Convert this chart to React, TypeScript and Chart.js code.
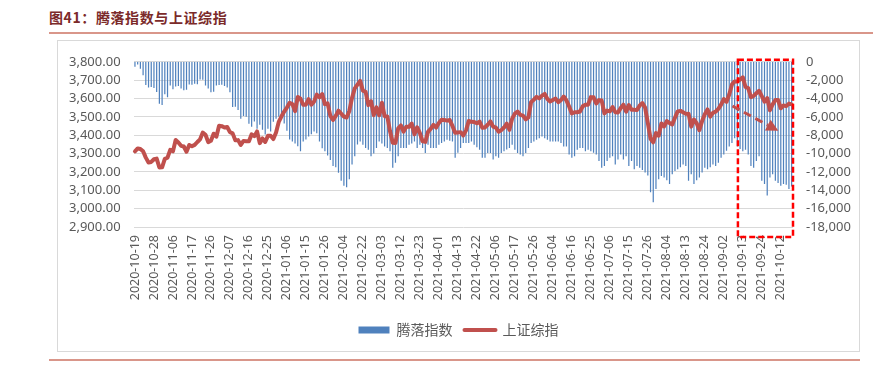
import React, { useEffect, useRef } from 'react';
import { Chart, registerables } from 'chart.js';

Chart.register(...registerables);

// Trading days, one string per month: "YYYY-MM:dd,dd,..."
const TRADING_DAYS: string[] = [
  '2020-10:19,20,21,22,23,26,27,28,29,30',
  '2020-11:02,03,04,05,06,09,10,11,12,13,16,17,18,19,20,23,24,25,26,27,30',
  '2020-12:01,02,03,04,07,08,09,10,11,14,15,16,17,18,21,22,23,24,25,28,29,30,31',
  '2021-01:04,05,06,07,08,11,12,13,14,15,18,19,20,21,22,25,26,27,28,29',
  '2021-02:01,02,03,04,05,08,09,10,18,19,22,23,24,25,26',
  '2021-03:01,02,03,04,05,08,09,10,11,12,15,16,17,18,19,22,23,24,25,26,29,30,31',
  '2021-04:01,02,06,07,08,09,12,13,14,15,16,19,20,21,22,23,26,27,28,29,30',
  '2021-05:06,07,10,11,12,13,14,17,18,19,20,21,24,25,26,27,28,31',
  '2021-06:01,02,03,04,07,08,09,10,11,15,16,17,18,21,22,23,24,25,28,29,30',
  '2021-07:01,02,05,06,07,08,09,12,13,14,15,16,19,20,21,22,23,26,27,28,29,30',
  '2021-08:02,03,04,05,06,09,10,11,12,13,16,17,18,19,20,23,24,25,26,27,30,31',
  '2021-09:01,02,03,06,07,08,09,10,13,14,15,16,17,22,23,24,27,28,29,30',
  '2021-10:08,11,12,13,14,15,18',
];
const DATES: string[] = TRADING_DAYS.flatMap((s) => {
  const [m, days] = s.split(':');
  return days.split(',').map((d) => `${m}-${d}`);
});

const TICK_LABELS: string[] = [
  '2020-10-19', '2020-10-28', '2020-11-06', '2020-11-17', '2020-11-26', '2020-12-07',
  '2020-12-16', '2020-12-25', '2021-01-06', '2021-01-15', '2021-01-26', '2021-02-04',
  '2021-02-22', '2021-03-03', '2021-03-12', '2021-03-23', '2021-04-01', '2021-04-13',
  '2021-04-22', '2021-05-06', '2021-05-17', '2021-05-26', '2021-06-04', '2021-06-16',
  '2021-06-25', '2021-07-06', '2021-07-15', '2021-07-26', '2021-08-04', '2021-08-13',
  '2021-08-24', '2021-09-02', '2021-09-13', '2021-09-24', '2021-10-12',
];

// 上证综指 (left axis)
const SH_COMPOSITE: number[] = [
  3312.5, 3328.1, 3325.03, 3312.49, 3278.0, 3251.12, 3254.32, 3269.24, 3272.74, 3224.53,
  3225.12, 3271.07, 3277.44, 3320.13, 3312.16, 3373.73, 3360.15, 3342.2, 3338.68, 3310.1,
  3346.97, 3339.9, 3347.3, 3363.09, 3377.73, 3414.49, 3402.82, 3362.33, 3369.73, 3408.31,
  3391.76,
  3451.94, 3449.38, 3442.14, 3444.58, 3416.6, 3410.18, 3371.96, 3373.28, 3347.19, 3369.12,
  3367.23, 3366.98, 3404.87, 3394.9, 3420.57, 3356.78, 3382.32, 3363.11, 3396.56, 3397.29,
  3379.04, 3414.45, 3473.07,
  3502.96, 3528.68, 3550.88, 3576.2, 3570.11, 3531.5, 3608.34, 3598.65, 3565.9, 3566.38,
  3596.22, 3566.65, 3583.09, 3621.26, 3606.75, 3624.24, 3569.43, 3573.34, 3505.18, 3483.07,
  3505.28, 3533.68, 3517.31, 3501.86, 3496.33, 3532.44, 3603.49, 3655.09, 3675.36, 3696.17,
  3642.44, 3636.36, 3564.08, 3585.05, 3509.08,
  3551.4, 3508.59, 3576.9, 3503.49, 3501.99, 3421.41, 3359.29, 3357.74, 3436.83, 3453.08,
  3419.95, 3446.73, 3445.55, 3463.07, 3404.66, 3443.44, 3411.51, 3367.06, 3363.59, 3418.33,
  3435.3, 3456.68, 3441.91,
  3466.33, 3484.39, 3482.99, 3479.63, 3482.55, 3450.68, 3412.95, 3415.05, 3416.8, 3398.99,
  3426.62, 3477.55, 3472.94, 3472.3, 3465.11, 3474.17, 3441.17, 3442.61, 3457.07, 3474.9,
  3446.86,
  3441.28, 3418.87, 3427.99, 3441.85, 3462.75, 3429.54, 3490.38, 3517.62, 3529.01, 3510.96,
  3506.94, 3486.56, 3497.28, 3581.34, 3593.36, 3608.85, 3600.78, 3615.48,
  3624.71, 3597.14, 3584.22, 3591.84, 3599.54, 3580.11, 3591.4, 3610.86, 3589.75, 3556.56,
  3518.33, 3525.1, 3525.1, 3529.18, 3557.41, 3566.22, 3566.65, 3607.56, 3606.37, 3573.18,
  3591.2,
  3588.78, 3518.76, 3534.32, 3530.26, 3553.72, 3525.5, 3524.09, 3547.84, 3566.2, 3528.5,
  3564.59, 3539.3, 3539.12, 3536.79, 3562.3, 3574.73, 3550.4, 3467.44, 3381.18, 3361.59,
  3411.72, 3397.36,
  3464.29, 3447.99, 3477.22, 3466.56, 3458.23, 3494.63, 3529.93, 3532.62, 3524.74, 3516.3,
  3517.34, 3446.98, 3485.29, 3465.55, 3427.33, 3477.13, 3514.47, 3540.38, 3501.66, 3522.16,
  3528.15, 3543.94,
  3567.1, 3597.04, 3581.73, 3621.86, 3676.59, 3693.13, 3693.13, 3703.11, 3715.37, 3662.6,
  3656.22, 3607.09, 3613.97, 3628.49, 3642.22, 3613.07, 3582.83, 3602.22, 3536.29, 3568.17,
  3592.17, 3591.71, 3546.94, 3561.76, 3558.28, 3572.37, 3568.14,
];

// 腾落指数 (right axis)
const ADVANCE_DECLINE: number[] = [
  -530, -300, -750, -1470, -2540, -2800, -2750, -2850, -3300, -4570,
  -4710, -3540, -3860, -2570, -3000, -2700, -2650, -2900, -3100, -3050,
  -2460, -2500, -2400, -2450, -1930, -1950, -2570, -2900, -3320, -3250,
  -2570, -2540, -2500, -2650, -2800, -3320, -4930, -4900, -5250, -6200,
  -5900, -6000, -6750, -7070, -6500, -7290, -6860, -7400, -7930, -7290,
  -7600, -6540, -6200, -6000, -6000, -6720, -7500, -8460, -8680, -8900,
  -9210, -9750, -8680, -8460, -8140, -7900, -7600, -7790, -8680, -9430,
  -9750, -10200, -10700, -11360, -11500, -12100, -12960, -13500, -13680, -12800,
  -11200, -10300, -9000, -8680, -9040, -9390, -9570, -10290, -10000, -9390,
  -8680, -8900, -9220, -9400, -9750, -11540, -11000, -10290, -9390, -9390,
  -9390, -9040, -8900, -8680, -9390, -9040, -9400, -9930, -9040, -9390,
  -9390, -9390, -9040, -8860, -8680, -8500, -8600, -8680, -10460, -9900,
  -9390, -8860, -8860, -8860, -8680, -9040, -9300, -9570, -10460, -10460,
  -9930, -9930, -10640, -10290, -10460, -9930, -9750, -9550, -9390, -9040,
  -9570, -9930, -10100, -10290, -9930, -9390, -8860, -8680, -8500, -8320,
  -8140, -8320, -8500, -8680, -8680, -8680, -8680, -8860, -9220, -9220,
  -10110, -10460, -10290, -9570, -9390, -9390, -9750, -9570, -9750, -9900,
  -10110, -10820, -11540, -11360, -10820, -10460, -10290, -11180, -10640, -10110,
  -10640, -10290, -11360, -10820, -11720, -11360, -11540, -11800, -12070, -12400,
  -14220, -15290, -13860, -12790, -12430, -12610, -12900, -13320, -12250, -11900,
  -11720, -11500, -11180, -11360, -12970, -12250, -13320, -12900, -12610, -12070,
  -11540, -11720, -11500, -11180, -11360, -11000, -10460, -10110, -9700, -9220,
  -8860, -8320, -9220, -9500, -9750, -9570, -10110, -11360, -11540, -10800,
  -10290, -12970, -13320, -14570, -12610, -12250, -12970, -13200, -13500, -13320,
  -13400, -13860, -13600,
];

const LEFT_MIN = 2900;
const LEFT_MAX = 3800;
const LEFT_STEP = 100;
const RIGHT_MIN = -18000;
const RIGHT_MAX = 0;
const RIGHT_STEP = 2000;

// Hand-drawn highlight: dashed box and dashed arrow, anchored in data units
const BOX_FROM_INDEX = 222.2;
const BOX_TOP_VALUE = 3811;
const BOX_BOTTOM_VALUE = 2846;
const ARROW_FROM: [number, number] = [220.2, 3559];
const ARROW_TO: [number, number] = [237.1, 3424];

const FONT = '"Noto Sans", "Noto Sans CJK SC", sans-serif';
const CJK = '"Noto Sans CJK SC", "Noto Sans", sans-serif';

const annotationPlugin = {
  id: 'boxArrow',
  afterDatasetsDraw(chart: any) {
    const { ctx, chartArea, scales } = chart;
    const xs = scales.x;
    const ys = scales.y;
    ctx.save();
    const l = xs.getPixelForValue(BOX_FROM_INDEX);
    const r = chartArea.right;
    const t = ys.getPixelForValue(BOX_TOP_VALUE);
    const b = ys.getPixelForValue(BOX_BOTTOM_VALUE);
    ctx.strokeStyle = '#ff0000';
    ctx.lineWidth = 2.5;
    ctx.setLineDash([6, 3]);
    ctx.strokeRect(l, t, r - l, b - t);

    const x1 = xs.getPixelForValue(ARROW_FROM[0]);
    const y1 = ys.getPixelForValue(ARROW_FROM[1]);
    const x2 = xs.getPixelForValue(ARROW_TO[0]);
    const y2 = ys.getPixelForValue(ARROW_TO[1]);
    const ang = Math.atan2(y2 - y1, x2 - x1);
    const headLen = 12;
    const headW = 6;
    const bx = x2 - headLen * Math.cos(ang);
    const by = y2 - headLen * Math.sin(ang);
    ctx.strokeStyle = '#c0504d';
    ctx.lineWidth = 3;
    ctx.setLineDash([8, 5]);
    ctx.beginPath();
    ctx.moveTo(x1, y1);
    ctx.lineTo(bx, by);
    ctx.stroke();
    ctx.setLineDash([]);
    ctx.fillStyle = '#c0504d';
    ctx.beginPath();
    ctx.moveTo(x2, y2);
    ctx.lineTo(bx - headW * Math.sin(ang), by + headW * Math.cos(ang));
    ctx.lineTo(bx + headW * Math.sin(ang), by - headW * Math.cos(ang));
    ctx.closePath();
    ctx.fill();
    ctx.restore();
  },
};

export default function App() {
  const ref = useRef<HTMLCanvasElement | null>(null);

  useEffect(() => {
    if (!ref.current) return;
    const chart = new Chart(ref.current, {
      type: 'bar',
      data: {
        labels: DATES,
        datasets: [
          {
            type: 'bar',
            label: '腾落指数',
            data: ADVANCE_DECLINE,
            yAxisID: 'y2',
            backgroundColor: '#4f81bd',
            categoryPercentage: 1,
            barPercentage: 0.45,
            order: 2,
          } as any,
          {
            type: 'line',
            label: '上证综指',
            data: SH_COMPOSITE,
            yAxisID: 'y',
            borderColor: '#c0504d',
            backgroundColor: '#c0504d',
            borderWidth: 4,
            pointRadius: 0,
            tension: 0,
            borderJoinStyle: 'round',
            borderCapStyle: 'round',
            order: 1,
          } as any,
        ],
      },
      options: {
        animation: false,
        responsive: false,
        maintainAspectRatio: false,
        layout: { padding: { top: 16, bottom: 4, left: 0, right: 0 } },
        plugins: {
          tooltip: { enabled: false },
          legend: {
            position: 'bottom',
            labels: {
              usePointStyle: true,
              pointStyleWidth: 31,
              boxHeight: 7,
              padding: 12,
              color: '#595959',
              font: { size: 14, family: CJK },
              generateLabels: () => [
                {
                  text: '腾落指数',
                  fillStyle: '#4f81bd',
                  strokeStyle: '#4f81bd',
                  lineWidth: 0,
                  pointStyle: 'rect',
                  hidden: false,
                  datasetIndex: 0,
                  fontColor: '#595959',
                } as any,
                {
                  text: '上证综指',
                  fillStyle: '#c0504d',
                  strokeStyle: '#c0504d',
                  lineWidth: 4,
                  lineCap: 'round',
                  pointStyle: 'line',
                  hidden: false,
                  datasetIndex: 1,
                  fontColor: '#595959',
                } as any,
              ],
            },
          },
        },
        scales: {
          x: {
            type: 'category',
            offset: true,
            grid: { display: false, drawTicks: false },
            border: { display: false },
            ticks: {
              autoSkip: false,
              maxRotation: 90,
              minRotation: 90,
              padding: 8,
              color: '#595959',
              font: { size: 12.5, family: FONT },
              callback: (_v: any, i: number) => (TICK_LABELS.includes(DATES[i]) ? DATES[i] : null),
            },
            afterFit: (s: any) => {
              s.height = 84;
            },
          },
          y: {
            position: 'left',
            min: LEFT_MIN,
            max: LEFT_MAX,
            grid: { color: '#d9d9d9', drawTicks: false },
            border: { display: false },
            ticks: {
              autoSkip: false,
              stepSize: LEFT_STEP,
              padding: 13,
              color: '#595959',
              font: { size: 13, family: FONT },
              callback: (v: any) =>
                Number(v).toLocaleString('en-US', { minimumFractionDigits: 2, maximumFractionDigits: 2 }),
            },
            afterFit: (s: any) => {
              s.width = 75.6;
            },
          },
          y2: {
            position: 'right',
            min: RIGHT_MIN,
            max: RIGHT_MAX,
            grid: { display: false, drawTicks: false },
            border: { display: false },
            ticks: {
              autoSkip: false,
              stepSize: RIGHT_STEP,
              padding: 13,
              color: '#595959',
              font: { size: 13, family: FONT },
              callback: (v: any) => Number(v).toLocaleString('en-US'),
            },
            afterFit: (s: any) => {
              s.width = 66;
            },
          },
        },
      } as any,
      plugins: [annotationPlugin],
    });
    return () => chart.destroy();
  }, []);

  return (
    <div
      style={{
        position: 'absolute',
        left: 0,
        top: 0,
        width: 873,
        height: 367,
        background: '#ffffff',
        overflow: 'hidden',
      }}
    >
      <div
        style={{
          position: 'absolute',
          left: 49,
          top: 7,
          fontFamily: CJK,
          fontWeight: 700,
          fontSize: 14,
          color: '#7b2a2a',
          whiteSpace: 'nowrap',
          letterSpacing: 0.6,
        }}
      >
        图41：腾落指数与上证综指
      </div>
      <div style={{ position: 'absolute', left: 49, top: 32, width: 824, height: 2, background: '#d9968a' }} />
      <div
        style={{
          position: 'absolute',
          left: 57,
          top: 40,
          width: 803,
          height: 312,
          border: '1px solid #d9d9d9',
          boxSizing: 'border-box',
        }}
      />
      <canvas
        ref={ref}
        width={801}
        height={310}
        style={{ position: 'absolute', left: 58, top: 41, width: 801, height: 310 }}
      />
      <div style={{ position: 'absolute', left: 49, top: 359, width: 811, height: 2, background: '#d9968a' }} />
    </div>
  );
}
